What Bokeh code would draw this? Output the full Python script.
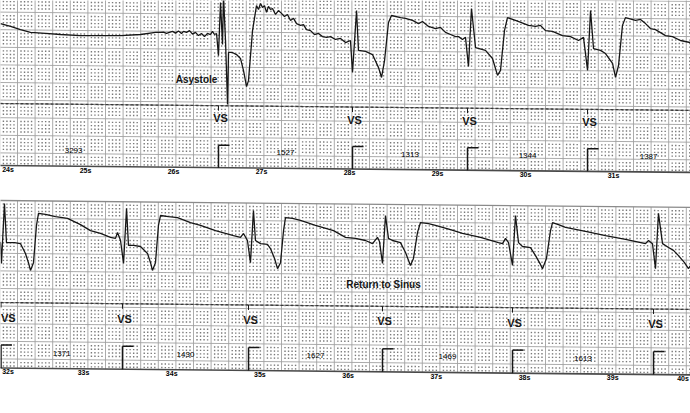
import numpy as np
from bokeh.plotting import figure
from bokeh.models import Range1d
from bokeh.layouts import column
from bokeh.embed import file_html
from bokeh.resources import INLINE
from bokeh.core.properties import value

FONT = "Liberation Sans"

# ---------------- Strip 1 (24 s - 31.8 s) ----------------
s1_time = [24.034, 24.148, 24.261, 24.375, 24.545, 24.716, 24.943, 25.170, 25.398, 25.625,
           25.795, 25.852, 25.886, 25.920, 25.954, 25.989, 26.023, 26.057, 26.091, 26.114,
           26.148, 26.182, 26.216, 26.250, 26.284, 26.318, 26.352, 26.386, 26.420, 26.443,
           26.466, 26.489, 26.511, 26.534, 26.557, 26.568, 26.591, 26.614, 26.625, 26.670,
           26.716, 26.761, 26.795, 26.830, 26.852, 26.898, 26.943, 26.966, 26.989, 27.011,
           27.034, 27.057, 27.079, 27.102, 27.125, 27.159, 27.193, 27.227, 27.261, 27.295,
           27.330, 27.364, 27.398, 27.443, 27.477, 27.511, 27.557, 27.602, 27.648, 27.693,
           27.739, 27.784, 27.841, 27.898, 27.955, 28.011, 28.034, 28.080, 28.102, 28.182,
           28.261, 28.330, 28.364, 28.398, 28.443, 28.477, 28.580, 28.636, 28.716, 28.784,
           28.829, 28.898, 28.977, 29.034, 29.091, 29.148, 29.205, 29.239, 29.284, 29.318,
           29.352, 29.386, 29.432, 29.545, 29.625, 29.682, 29.716, 29.761, 29.795, 29.886,
           29.954, 30.034, 30.114, 30.170, 30.227, 30.307, 30.420, 30.511, 30.602, 30.659,
           30.705, 30.739, 30.773, 30.852, 30.909, 30.989, 31.023, 31.057, 31.102, 31.136,
           31.250, 31.307, 31.364, 31.420, 31.477, 31.591, 31.670, 31.761, 31.875]
s1_mv = [0.48, 0.40, 0.31, 0.23, 0.20, 0.17, 0.14, 0.14, 0.14, 0.17,
         0.23, 0.23, 0.24, 0.20, 0.23, 0.26, 0.21, 0.27, 0.20, 0.26,
         0.23, 0.28, 0.18, 0.23, 0.14, 0.20, 0.11, 0.20, 0.17, 0.26,
         0.17, 0.20, -0.43, 1.08, -0.11, 1.28, 0.00, -1.82, -0.34, -0.34,
         -0.40, -0.51, -0.85, -1.31, -1.14, 0.28, 0.99, 0.88, 1.05, 0.94,
         0.99, 0.80, 0.97, 0.88, 0.91, 0.74, 0.85, 0.77, 0.68, 0.74,
         0.57, 0.63, 0.48, 0.43, 0.45, 0.31, 0.28, 0.17, 0.20, 0.11,
         0.09, 0.11, 0.03, 0.06, -0.06, 0.00, -0.91, 0.85, -0.28, -0.31,
         -0.40, -0.77, -1.05, -0.57, 0.51, 0.71, 0.65, 0.63, 0.57, 0.48,
         0.54, 0.40, 0.34, 0.37, 0.23, 0.17, 0.11, 0.11, 0.03, 0.09,
         -0.74, 0.91, -0.20, -0.28, -0.51, -0.99, -0.85, 0.28, 0.65, 0.57,
         0.51, 0.43, 0.40, 0.43, 0.28, 0.26, 0.14, 0.11, 0.00, 0.09,
         -0.85, 0.85, -0.23, -0.28, -0.37, -0.65, -1.05, -0.71, 0.43, 0.65,
         0.57, 0.60, 0.48, 0.34, 0.31, 0.14, 0.11, 0.00, -0.06]
s1_beats = [23.218, 26.511, 28.034, 29.341, 30.705, 32.092]
s1_intervals = ["3293", "1527", "1313", "1344", "1387"]
s1_seconds = [24, 25, 26, 27, 28, 29, 30, 31]
s1_note = "Asystole"

# ---------------- Strip 2 (32 s - 39.8 s) ----------------
s2_time = [32.002, 32.059, 32.070, 32.104, 32.127, 32.218, 32.286, 32.342, 32.376, 32.399,
           32.433, 32.467, 32.490, 32.569, 32.683, 32.819, 32.966, 33.079, 33.193, 33.306,
           33.363, 33.386, 33.420, 33.454, 33.488, 33.510, 33.567, 33.646, 33.726, 33.760,
           33.782, 33.816, 33.850, 33.873, 33.964, 34.066, 34.213, 34.327, 34.497, 34.701,
           34.780, 34.814, 34.859, 34.893, 34.927, 34.950, 35.007, 35.086, 35.120, 35.166,
           35.200, 35.234, 35.268, 35.290, 35.370, 35.460, 35.630, 35.835, 35.971, 36.084,
           36.197, 36.277, 36.333, 36.356, 36.390, 36.424, 36.458, 36.503, 36.594, 36.651,
           36.707, 36.741, 36.787, 36.821, 36.912, 36.991, 37.161, 37.297, 37.501, 37.705,
           37.751, 37.785, 37.819, 37.864, 37.898, 37.932, 37.977, 38.068, 38.125, 38.181,
           38.204, 38.249, 38.295, 38.318, 38.385, 38.465, 38.692, 38.918, 39.145, 39.372,
           39.406, 39.451, 39.485, 39.519, 39.565, 39.633, 39.689, 39.746, 39.814, 39.859,
           39.905]
s2_mv = [0.00, -0.06, -0.65, 1.05, -0.06, -0.06, -0.09, -0.37, -0.63, -0.85,
         -0.63, 0.43, 0.77, 0.74, 0.68, 0.63, 0.45, 0.28, 0.20, 0.09,
         0.06, 0.23, 0.00, -0.65, 0.91, -0.14, -0.14, -0.17, -0.37, -0.63,
         -0.85, -0.63, 0.43, 0.71, 0.68, 0.65, 0.51, 0.43, 0.28, 0.14,
         0.09, 0.20, 0.00, -0.63, 0.85, 0.00, -0.09, -0.11, -0.23, -0.51,
         -0.80, -0.63, 0.28, 0.65, 0.63, 0.57, 0.43, 0.28, 0.09, 0.06,
         0.00, -0.09, 0.09, -0.03, -0.65, 0.71, 0.06, 0.00, -0.06, -0.34,
         -0.71, -0.51, 0.23, 0.51, 0.48, 0.43, 0.31, 0.20, 0.09, -0.06,
         -0.09, 0.06, -0.06, -0.71, 0.71, -0.06, -0.17, -0.20, -0.43, -0.68,
         -0.80, -0.51, 0.28, 0.51, 0.45, 0.37, 0.26, 0.14, 0.03, -0.09,
         0.00, -0.09, -0.80, 0.77, -0.09, -0.20, -0.28, -0.43, -0.63, -0.80,
         -0.63]
s2_beats = [32.065, 33.442, 34.871, 36.390, 37.864, 39.463]
s2_intervals = ["1371", "1430", "1627", "1469", "1613"]
s2_seconds = [32, 33, 34, 35, 36, 37, 38, 39, 40]
s2_note = "Return to Sinus"

assert len(s1_time) == len(s1_mv) and len(s2_time) == len(s2_mv)

# pixel geometry of each printed strip (paper layout only)
cfg1 = dict(t0=24.034, pps=88.0, base=40.0, h=190, ytop=0, ybot=190,
            paper_top=-20.0, paper_bot=165.0, edge=False, g0=11.6, sep=103.0,
            vs=115.5, ival=149.5, gam=142.5, tl=168.8, note_xy=(196, 77))
cfg2 = dict(t0=32.059, pps=88.2, base=240.0, h=223, ytop=190, ybot=413,
            paper_top=200.0, paper_bot=367.5, edge=True, g0=200.0, sep=302.0,
            vs=317.0, ival=352.0, gam=344.5, tl=371.3, note_xy=(383, 280))

W = 690
TILT = 0.01
INK = "#161616"


def fit_x(xp, text, size_px, bold=False):
    """keep a centred text fully inside the picture"""
    hw = len(text) * size_px * (0.31 if bold else 0.28) + 1
    return min(max(xp, hw), W - hw)


def make_strip(cfg, time, mv, beats, ivals, secs, note):
    X = lambda t: (np.asarray(t, dtype=float) - cfg["t0"]) * cfg["pps"]
    T = lambda xp: cfg["t0"] + np.asarray(xp, dtype=float) / cfg["pps"]
    V = lambda yp: (cfg["base"] - np.asarray(yp, dtype=float)) / 35.2
    Y = lambda yp, xp: V(np.asarray(yp, dtype=float) + TILT * np.asarray(xp, dtype=float))

    p = figure(width=W, height=cfg["h"],
               x_range=Range1d(float(T(0)), float(T(W))),
               y_range=Range1d(float(V(cfg["ybot"])), float(V(cfg["ytop"]))),
               x_axis_type=None, y_axis_type=None, output_backend="svg",
               toolbar_location=None, min_border=0,
               background_fill_color="white", border_fill_color="white")
    p.outline_line_color = None

    top, bot = cfg["paper_top"], cfg["paper_bot"]
    xl, xr = -20.0, 710.0

    # paper grid: major lines every 0.2 s / 0.5 mV, dots at 0.04 s / 0.1 mV
    vx = 17.0 + 17.6 * np.arange(-1, 41)
    p.segment(x0=T(vx), y0=Y(np.full_like(vx, top), vx), x1=T(vx),
              y1=Y(np.full_like(vx, bot), vx), line_color="#a2a2a2", line_width=0.9)
    hy_all = cfg["g0"] + 17.6 * np.arange(-3, 15)
    hy = hy_all[(hy_all > top + 0.5) & (hy_all < bot - 0.5)]
    p.segment(x0=np.full_like(hy, T(xl)), y0=Y(hy, xl), x1=np.full_like(hy, T(xr)),
              y1=Y(hy, xr), line_color="#a2a2a2", line_width=0.9)
    minor = 3.52 * np.arange(1, 5)
    dx = (vx[:, None] + minor[None, :]).ravel()
    dy = (hy_all[:, None] + minor[None, :]).ravel()
    DX, DY = np.meshgrid(dx, dy)
    m = (DY > top + 1) & (DY < bot - 1) & (DX > -2) & (DX < W + 2)
    p.scatter(x=T(DX[m]), y=Y(DY[m], DX[m]), marker="square", size=1.4,
              fill_color="#7a7a7a", line_color=None)

    # paper edges and channel separator
    ex = np.array([xl, xr])
    if cfg["edge"]:
        p.line(T(ex), Y([top, top], ex), line_color="#8a8a8a", line_width=1.3)
    p.line(T(ex), Y([bot, bot], ex), line_color="#4a4a4a", line_width=1.6)
    p.line(T(ex), Y([cfg["sep"]] * 2, ex), line_color="#8a8a8a", line_width=1.0)
    p.line(T(ex), Y([cfg["sep"]] * 2, ex), line_color="#3a3a3a", line_width=1.3,
           line_dash="3 2")

    # ECG trace
    p.line(time, mv, line_color=INK, line_width=1.3)

    # marker channel: VS label, tick, gamma marker
    bx = X(beats)
    vis = (bx > -20) & (bx < W + 10)
    b = np.asarray(beats)[vis]
    bxx = bx[vis]
    vs_x = np.array([fit_x(v + 2, "VS", 11, True) for v in bxx])
    p.text(x=T(vs_x), y=Y(np.full_like(bxx, cfg["vs"]), bxx), text=["VS"] * len(b),
           text_align="center", text_baseline="middle", text_color=INK,
           text_font=value(FONT), text_font_size=value("11px"), text_font_style="bold")
    p.segment(x0=b, y0=Y(np.full_like(bxx, cfg["sep"]), bxx), x1=b,
              y1=Y(np.full_like(bxx, cfg["sep"] + 5), bxx), line_color=INK, line_width=1)
    p.segment(x0=b, y0=Y(np.full_like(bxx, cfg["gam"]), bxx), x1=b,
              y1=Y(np.full_like(bxx, bot), bxx), line_color=INK, line_width=1.5)
    p.segment(x0=b, y0=Y(np.full_like(bxx, cfg["gam"]), bxx), x1=T(bxx + 11),
              y1=Y(np.full_like(bxx, cfg["gam"]), bxx), line_color=INK, line_width=1.5)

    # interval values (ms) between consecutive beats
    mids = (np.asarray(beats[:-1]) + np.asarray(beats[1:])) / 2.0
    mx = X(mids)
    p.text(x=mids, y=Y(np.full_like(mx, cfg["ival"]), mx), text=ivals,
           text_align="center", text_baseline="middle", text_color="#000000",
           text_font=value(FONT), text_font_size=value("8px"))

    # seconds scale below strip
    labels = [f"{s}s" for s in secs]
    sx = X(secs)
    sx_fit = np.array([fit_x(v, lab, 7, True) for v, lab in zip(sx, labels)])
    p.text(x=T(sx_fit), y=Y(np.full_like(sx, cfg["tl"]), sx), text=labels,
           text_align="center", text_baseline="middle", text_color="#000000",
           text_font=value(FONT), text_font_size=value("7px"), text_font_style="bold")

    # rhythm annotation
    nx, ny = cfg["note_xy"]
    p.text(x=[float(T(nx))], y=[float(Y(ny, nx))], text=[note], text_align="center",
           text_baseline="middle", text_color=INK, text_font=value(FONT),
           text_font_size=value("10px"), text_font_style="bold")
    return p


p1 = make_strip(cfg1, s1_time, s1_mv, s1_beats, s1_intervals, s1_seconds, s1_note)
p2 = make_strip(cfg2, s2_time, s2_mv, s2_beats, s2_intervals, s2_seconds, s2_note)

layout = column(p1, p2, spacing=0)
open("out.html", "w").write(file_html(layout, INLINE))
